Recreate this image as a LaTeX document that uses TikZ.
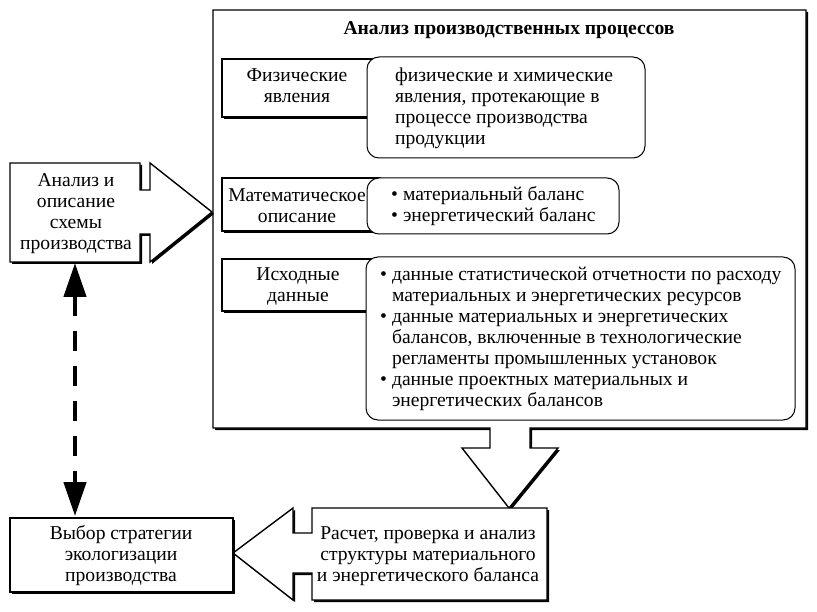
\documentclass[tikz,border=0pt]{standalone}
\usepackage{fontspec}
\setmainfont{Liberation Serif}
\usetikzlibrary{arrows.meta}
\begin{document}
\begin{tikzpicture}[x=1pt,y=-1pt,
  txt/.style={font=\fontsize{19.6}{21}\selectfont, inner sep=0pt, align=center},
  outl/.style={draw=black, line width=1.4pt, fill=white, line join=miter},
  shad/.style={fill=black, shift={(2,2)}},
  ibox/.style={draw=black, line width=1.4pt, fill=white},
  rbox/.style={draw=black, line width=1pt, fill=white, rounded corners=12pt},
  dasharrow/.style={line width=4.5pt, dash pattern=on 20pt off 15pt,
    {Triangle[length=34pt,width=22pt]}-{Triangle[length=34pt,width=22pt]}}]
\useasboundingbox (0,0) rectangle (817,612);
\fill[white] (0,0) rectangle (817,612);

% big box with down arrow
\fill[shad] (213,10) -- (806,10) -- (806,428) -- (530,428) -- (530,448) -- (558,448) -- (509,508) -- (462,448) -- (490,448) -- (490,428) -- (213,428) -- cycle;
\path[outl] (213,10) -- (806,10) -- (806,428) -- (530,428) -- (530,448) -- (558,448) -- (509,508) -- (462,448) -- (490,448) -- (490,428) -- (213,428) -- cycle;

% left box with right arrow
\fill[shad] (10,163) -- (140,163) -- (140,190) -- (150,190) -- (150,163) -- (212,212) -- (150,262) -- (150,234) -- (140,234) -- (140,262) -- (10,262) -- cycle;
\path[outl] (10,163) -- (140,163) -- (140,190) -- (150,190) -- (150,163) -- (212,212) -- (150,262) -- (150,234) -- (140,234) -- (140,262) -- (10,262) -- cycle;

% bottom middle box with left arrow
\fill[shad] (312,508) -- (547,508) -- (547,600) -- (312,600) -- (312,573) -- (293,573) -- (293,600) -- (233,553) -- (293,508) -- (293,533) -- (312,533) -- cycle;
\path[outl] (312,508) -- (547,508) -- (547,600) -- (312,600) -- (312,573) -- (293,573) -- (293,600) -- (233,553) -- (293,508) -- (293,533) -- (312,533) -- cycle;

% bottom left box
\fill[shad] (10,518) rectangle (233,592);
\path[outl] (10,518) rectangle (233,592);

% inner rectangles
\fill[shad] (222,59) rectangle (380,117);
\path[ibox] (222,59) rectangle (380,117);
\fill[shad] (222,178) rectangle (380,231);
\path[ibox] (222,178) rectangle (380,231);
\fill[shad] (222,259) rectangle (380,311);
\path[ibox] (222,259) rectangle (380,311);

% rounded boxes
\path[rbox] (367,57) rectangle (645,158);
\path[rbox] (367,178) rectangle (619,234);
\path[rbox] (366,257) rectangle (795,420);

% texts
\node[txt] (anal) at (76,214) {Анализ и\\описание\\схемы\\производства};
\node[txt, font=\fontsize{19.6}{21}\selectfont\bfseries] (title) at (509,30) {Анализ производственных процессов};
\node[txt] (phys) at (297,86) {Физические\\явления};
\node[txt] (math) at (297,206) {Математическое\\описание};
\node[txt] (data) at (298,286) {Исходные\\данные};
\node[txt, anchor=west, align=left] (physd) at (395,108) {физические и химические\\явления, протекающие в\\процессе производства\\продукции};
\node[txt, anchor=west] (mathd) at (391,207) {\begin{tabular}{@{}l@{\hspace{5pt}}l@{}}
• & материальный баланс\\
• & энергетический баланс
\end{tabular}};
\node[txt, anchor=west] (datad) at (380,339) {\begin{tabular}{@{}l@{\hspace{5pt}}l@{}}
• & данные статистической отчетности по расходу\\
 & материальных и энергетических ресурсов\\
• & данные материальных и энергетических\\
 & балансов, включенные в технологические\\
 & регламенты промышленных установок\\
• & данные проектных материальных и\\
 & энергетических балансов
\end{tabular}};
\node[txt] (calc) at (428,556) {Расчет, проверка и анализ\\структуры материального\\и энергетического баланса};
\node[txt] (choice) at (121,556) {Выбор стратегии\\экологизации\\производства};

% dashed double arrow
\coordinate (atop) at (75,263);
\coordinate (abot) at (75,516);
\draw[dasharrow] (atop) -- (abot);
\end{tikzpicture}
\end{document}
